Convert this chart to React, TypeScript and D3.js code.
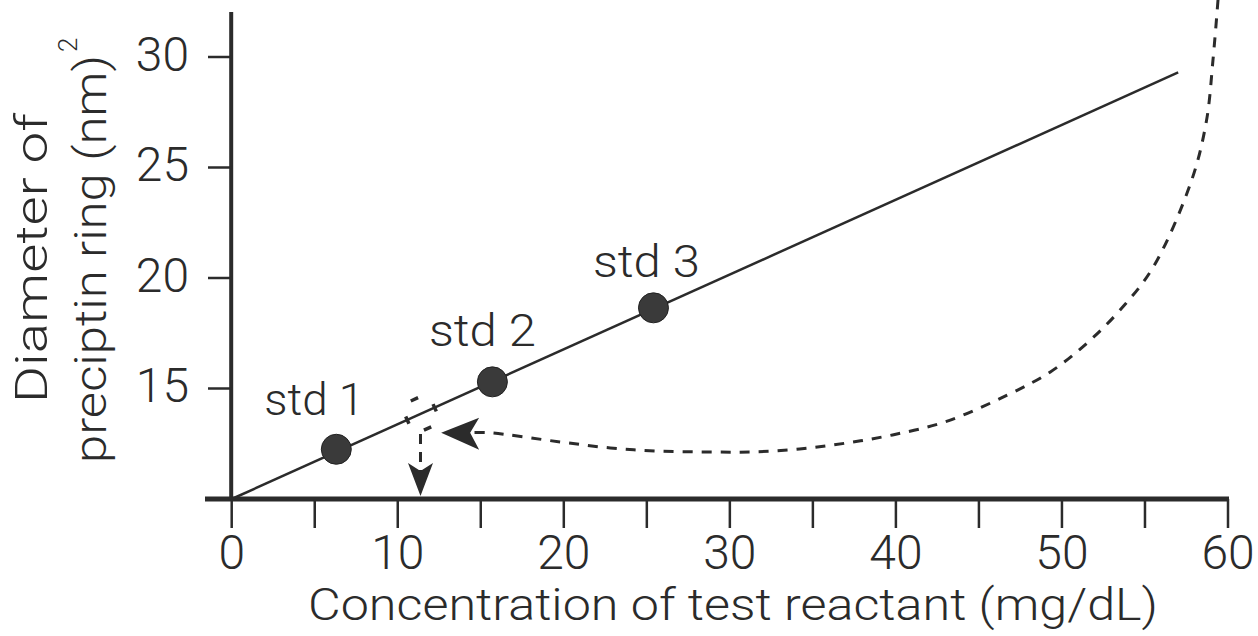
import React from "react";
import * as d3 from "d3";

// x axis: concentration (mg/dL), y axis: diameter squared (nm)^2
const xTickValues = [0, 5, 10, 15, 20, 25, 30, 35, 40, 45, 50, 55, 60];
const xTickLabels = [0, 10, 20, 30, 40, 50, 60];
const yTickLabels = [15, 20, 25, 30];

const stdNames = ["std 1", "std 2", "std 3"];
const stdConc = [6.3, 15.7, 25.4];
const stdDiam = [12.25, 15.3, 18.65];

// standard curve (straight fit through origin)
const fitConc = [0, 57];
const fitDiam = [10, 29.3];

// unknown sample
const unknownConc = 11.4;
const unknownDiam = 13.85;

// dashed curve coming from the right (top) down to the unknown
const curveConc = [59.4, 59.1, 58.7, 57.8, 55.5, 53.5, 51.5, 49.3, 46.7, 43.0, 39.8, 37.0, 34.2, 31.4, 28.6, 25.6, 22.8, 19.8, 15.5, 14.3];
const curveDiam = [32.6, 29.9, 27.1, 24.4, 20.5, 18.55, 17.05, 15.75, 14.7, 13.5, 12.9, 12.53, 12.26, 12.13, 12.13, 12.17, 12.31, 12.58, 13.0, 13.0];

const W = 1258;
const H = 636;
const ink = "#2b2b2b";
const font = "Roboto, 'Liberation Sans', sans-serif";

const labelOffsets = [
  [-22, -34],
  [-10, -36],
  [-7, -31],
];
const labelWidths = [100, 107, 107];

export default function App() {
  const x = d3.scaleLinear().domain([0, 60]).range([231.7, 1228]);
  const y = d3.scaleLinear().domain([10, 30]).range([499, 57]);

  const fitPath = d3
    .line<number>()
    .x((d) => x(fitConc[d]))
    .y((d) => y(fitDiam[d]))(fitConc.map((_, i) => i));

  const curvePath = d3
    .line<number>()
    .x((i) => x(curveConc[i]))
    .y((i) => y(curveDiam[i]))
    .curve(d3.curveCatmullRom.alpha(0.5))(curveConc.map((_, i) => i));

  // left-pointing arrowhead at the end of the dashed curve
  const hx = x(curveConc[curveConc.length - 1]) - 28;
  const hy = y(curveDiam[curveDiam.length - 1]);
  const hArrow = `M${hx},${hy} L${hx + 38},${hy - 15} L${hx + 29},${hy} L${hx + 38},${hy + 17} Z`;

  // unknown marker and the drop to the x axis
  const ux = x(unknownConc);
  const uy = y(unknownDiam);
  const angle = (Math.atan2(y(fitDiam[1]) - y(fitDiam[0]), x(fitConc[1]) - x(fitConc[0])) * 180) / Math.PI;
  const vx = ux - 0.5;
  const vTip = y(10) - 3;
  const vArrow = `M${vx},${vTip} L${vx - 12.5},${vTip - 33} L${vx},${vTip - 25} L${vx + 12.5},${vTip - 33} Z`;

  const textProps = { fontFamily: font, fontWeight: 300, fill: ink };

  return (
    <svg width={W} height={H} style={{ position: "absolute", left: 0, top: 0, background: "#fff" }}>
      {/* y axis */}
      <line x1={x(0) - 0.5} x2={x(0) - 0.5} y1={12} y2={y(10)} stroke={ink} strokeWidth={4} />
      {yTickLabels.map((t) => (
        <g key={t}>
          <line x1={208} x2={x(0)} y1={y(t)} y2={y(t)} stroke={ink} strokeWidth={2.5} />
          <text x={189} y={y(t) - 3} textAnchor="end" dominantBaseline="central" fontSize={48} {...textProps}>
            {t}
          </text>
        </g>
      ))}

      {/* x axis */}
      <line x1={205} x2={x(60) + 1} y1={y(10)} y2={y(10)} stroke={ink} strokeWidth={5} />
      {xTickValues.map((t) => (
        <line key={t} x1={x(t)} x2={x(t)} y1={y(10)} y2={528} stroke={ink} strokeWidth={2.5} />
      ))}
      {xTickLabels.map((t) => (
        <text key={t} x={x(t)} y={552} textAnchor="middle" dominantBaseline="central" fontSize={48} {...textProps}>
          {t}
        </text>
      ))}

      {/* axis titles */}
      <text x={308} y={620} fontSize={45} textLength={850} lengthAdjust="spacingAndGlyphs" {...textProps}>
        Concentration of test reactant (mg/dL)
      </text>
      <g transform="translate(47,403) rotate(-90)">
        <text x={0} y={0} fontSize={44} textLength={290} lengthAdjust="spacingAndGlyphs" {...textProps}>
          Diameter of
        </text>
      </g>
      <g transform="translate(106,463) rotate(-90)">
        <text x={0} y={0} fontSize={44} textLength={408} lengthAdjust="spacingAndGlyphs" {...textProps}>
          preciptin ring (nm)
        </text>
        <text x={411} y={-29} fontSize={26} {...textProps}>
          2
        </text>
      </g>

      {/* standard curve */}
      <path d={fitPath ?? ""} fill="none" stroke={ink} strokeWidth={2.5} />

      {/* dashed curve with arrow */}
      <path d={curvePath ?? ""} fill="none" stroke={ink} strokeWidth={3} strokeDasharray="10,9" />
      <path d={hArrow} fill={ink} />

      {/* unknown marker */}
      <g transform={`translate(${ux},${uy}) rotate(${angle})`}>
        <rect
          x={-15}
          y={-16}
          width={30}
          height={32}
          fill="none"
          stroke={ink}
          strokeWidth={3.5}
          strokeDasharray="8,23"
          strokeDashoffset={-11}
        />
      </g>
      <line x1={vx} x2={vx} y1={uy + 20} y2={vTip - 25} stroke={ink} strokeWidth={3} strokeDasharray="10,8" />
      <path d={vArrow} fill={ink} />

      {/* standards */}
      {stdNames.map((name, i) => (
        <g key={name}>
          <circle cx={x(stdConc[i])} cy={y(stdDiam[i])} r={15} fill="#3a3a3a" stroke="#222" strokeWidth={1} />
          <text
            x={x(stdConc[i]) + labelOffsets[i][0] - labelWidths[i] / 2}
            y={y(stdDiam[i]) + labelOffsets[i][1]}
            fontSize={44}
            textLength={labelWidths[i]}
            lengthAdjust="spacingAndGlyphs"
            {...textProps}
          >
            {name}
          </text>
        </g>
      ))}
    </svg>
  );
}
